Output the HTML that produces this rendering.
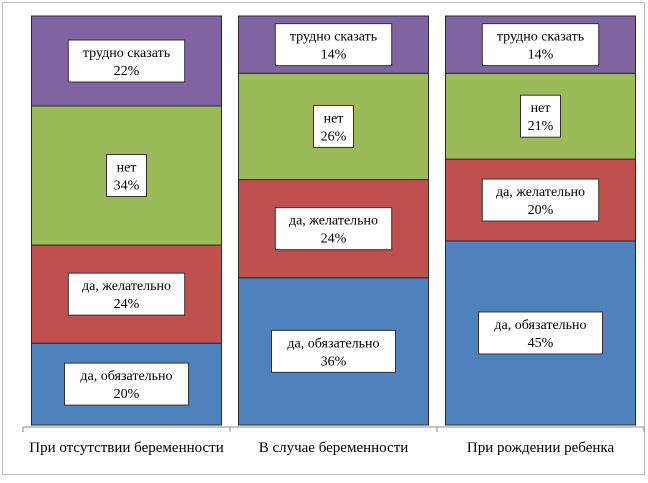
<!DOCTYPE html>
<html><head><meta charset="utf-8"><style>
body{margin:0;background:#fff}
svg text{font-family:"Liberation Serif",serif;font-size:14px;fill:#000}
</style></head><body>
<svg width="648" height="478" xmlns="http://www.w3.org/2000/svg">
<rect x="2.5" y="2.5" width="642" height="472" fill="#fff" stroke="#bdbdbd"/>
<g id="plot"></g>
</svg>
<script>
const categories=["При отсутствии беременности","В случае беременности","При рождении ребенка"];
const seriesNames=["да, обязательно","да, желательно","нет","трудно сказать"];
const seriesColors=["#4f81bd","#c0504d","#9bbb59","#8064a2"];
const s1=[20,36,45];
const s2=[24,24,20];
const s3=[34,26,21];
const s4=[22,14,14];
const series=[s1,s2,s3,s4];
const NS="http://www.w3.org/2000/svg";
const g=document.getElementById('plot');
const x0=23,x1=644,yTop=16,yBot=425;
const band=(x1-x0)/categories.length,barW=190;
const y=v=>yBot-(v/100)*(yBot-yTop);
function mk(t,a){const e=document.createElementNS(NS,t);for(const k in a)e.setAttribute(k,a[k]);g.appendChild(e);return e;}
categories.forEach((c,i)=>{
  const cx=x0+band*(i+0.5);let cum=0;
  const totals=series.reduce((s,a)=>s+a[i],0);
  series.forEach((arr,si)=>{
    const v=arr[i]*100/totals;
    const ya=y(cum+v),yb=y(cum);
    const r=mk('rect',{x:cx-barW/2,y:ya,width:barW,height:yb-ya,fill:seriesColors[si],stroke:'#2b2b2b','stroke-width':1});
    
    
    const my=(ya+yb)/2;
    const t1=seriesNames[si],t2=arr[i]+'%';
    const tw=Math.max(t1.length*7.6,30)+10;
    const b=mk('rect',{x:cx-tw/2,y:my-21,width:tw,height:42,fill:'#fff',stroke:'#333','stroke-width':1});
    
    
    const a=mk('text',{x:cx,y:my-4,'text-anchor':'middle'});a.textContent=t1;
    
    
    const p=mk('text',{x:cx,y:my+14,'text-anchor':'middle'});p.textContent=t2;
    
    
    cum+=v;
  });
  const l=mk('text',{x:cx,y:452,'text-anchor':'middle'});l.textContent=c;
  l.style.fontSize='15px';
  
  
});
const ax=mk('line',{x1:x0,y1:427,x2:x1,y2:427,stroke:'#888'});


for(let i=0;i<=categories.length;i++){
  const tx=x0+band*i;
  const tk=mk('line',{x1:tx,y1:427,x2:tx,y2:432,stroke:'#888'});
  
  
}
</script>
</body></html>
